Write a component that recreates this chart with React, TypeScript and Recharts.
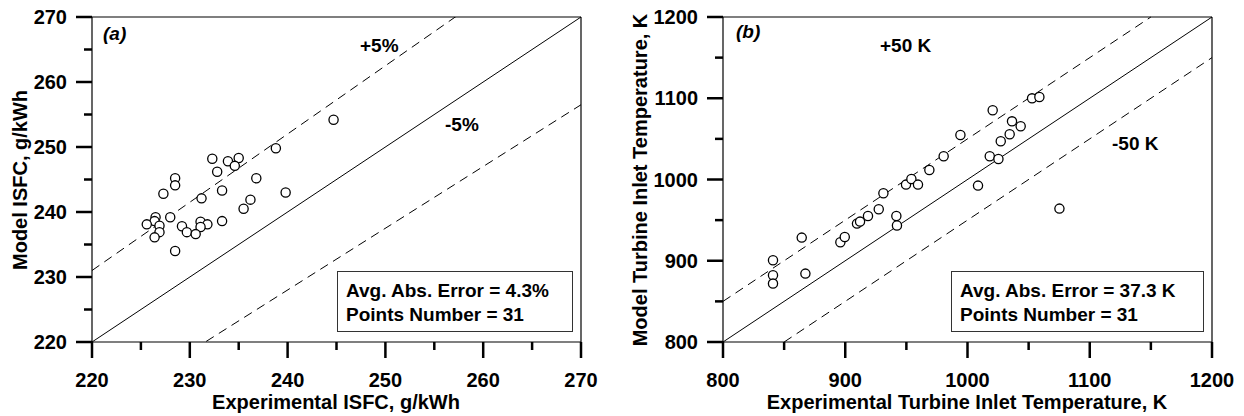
import React from 'react';
import { ReferenceLine, Scatter, ScatterChart, XAxis, YAxis } from 'recharts';

// (a) ISFC, g/kWh
const isfcExp = [
  244.7, 238.8, 232.3, 233.9, 235.0, 234.6, 232.8, 236.8, 228.5, 228.5, 227.3, 233.3, 239.8, 231.2, 236.2, 235.5,
  226.5, 228.0, 226.4, 225.6, 226.9, 229.2, 231.1, 231.8, 231.1, 233.3, 226.9, 229.7, 230.6, 226.4, 228.5,
];
const isfcModel = [
  254.2, 249.8, 248.2, 247.8, 248.3, 247.1, 246.2, 245.2, 245.2, 244.1, 242.8, 243.3, 243.0, 242.1, 241.9, 240.5,
  239.2, 239.2, 238.6, 238.1, 237.9, 237.8, 238.5, 238.1, 237.7, 238.6, 236.9, 236.9, 236.6, 236.1, 234.0,
];
const isfcTicks = [220, 225, 230, 235, 240, 245, 250, 255, 260, 265, 270];

// (b) turbine inlet temperature, K
const titExp = [
  840.9, 840.9, 840.9, 864.4, 867.4, 896.0, 899.6, 909.6, 912.1, 918.6, 927.4, 931.2, 941.8, 942.3, 949.7, 954.1,
  959.5, 968.8, 980.5, 994.2, 1020.6, 1052.8, 1058.8, 1036.4, 1043.5, 1034.5, 1027.2, 1018.2, 1025.3, 1008.6, 1075.2,
];
const titModel = [
  900.6, 882.1, 871.9, 928.5, 884.2, 922.7, 929.2, 945.7, 948.2, 955.1, 963.3, 983.0, 955.1, 943.3, 993.7, 1000.6,
  993.7, 1011.7, 1028.6, 1054.8, 1085.2, 1099.9, 1101.5, 1071.6, 1065.5, 1055.6, 1047.0, 1028.6, 1025.2, 992.5, 964.2,
];
const titTicks = [800, 850, 900, 950, 1000, 1050, 1100, 1150, 1200];

const FONT = '"Liberation Sans", Arial, sans-serif';

// major ticks are long and labelled, minor ones short and bare
function BottomTick(props: any) {
  const { x, y, payload, step } = props;
  const major = payload.value % step === 0;
  return (
    <g>
      <line x1={x} x2={x} y1={y} y2={y + (major ? 16 : 8)} stroke="#000" strokeWidth={2.5} />
      {major && (
        <text x={x} y={y + 45} textAnchor="middle" fontFamily={FONT} fontWeight={700} fontSize={20} fill="#000">
          {payload.value}
        </text>
      )}
    </g>
  );
}

function LeftTick(props: any) {
  const { x, y, payload, step } = props;
  const major = payload.value % step === 0;
  return (
    <g>
      <line x1={x} x2={x - (major ? 16 : 8)} y1={y} y2={y} stroke="#000" strokeWidth={2.5} />
      {major && (
        <text x={x - 25} y={y + 7} textAnchor="end" fontFamily={FONT} fontWeight={700} fontSize={20} fill="#000">
          {payload.value}
        </text>
      )}
    </g>
  );
}

const dot = (p: any) => <circle cx={p.cx} cy={p.cy} r={4.6} fill="#fff" stroke="#000" strokeWidth={1.3} />;

function Note({
  x,
  y,
  children,
  italic,
  center,
  size = 19,
}: {
  x: number;
  y: number;
  children: React.ReactNode;
  italic?: boolean;
  center?: boolean;
  size?: number;
}) {
  return (
    <div
      style={{
        position: 'absolute',
        left: x,
        top: y,
        transform: center ? 'translate(-50%, -50%)' : 'translateY(-50%)',
        fontFamily: FONT,
        fontWeight: 700,
        fontStyle: italic ? 'italic' : 'normal',
        fontSize: size,
        lineHeight: 1,
        whiteSpace: 'nowrap',
        color: '#000',
      }}
    >
      {children}
    </div>
  );
}

function StatBox({ left, width, lines }: { left: number; width: number; lines: string[] }) {
  return (
    <div
      style={{
        position: 'absolute',
        left,
        top: 271,
        width,
        height: 61,
        boxSizing: 'border-box',
        border: '1px solid #333',
        background: '#fff',
        padding: '7px 0 0 8px',
        fontFamily: FONT,
        fontWeight: 700,
        fontSize: 19,
        lineHeight: '24px',
        color: '#000',
      }}
    >
      {lines.map((l) => (
        <div key={l}>{l}</div>
      ))}
    </div>
  );
}

function YTitle({ x, y, text }: { x: number; y: number; text: string }) {
  return (
    <div
      style={{
        position: 'absolute',
        left: x,
        top: y,
        transform: 'translate(-50%, -50%) rotate(-90deg)',
        fontFamily: FONT,
        fontWeight: 700,
        fontSize: 20,
        lineHeight: 1,
        whiteSpace: 'nowrap',
      }}
    >
      {text}
    </div>
  );
}

export default function App() {
  const isfcData = isfcExp.map((x, i) => ({ x, y: isfcModel[i] }));
  const titData = titExp.map((x, i) => ({ x, y: titModel[i] }));

  return (
    <div style={{ position: 'absolute', left: 0, top: 0, width: 1244, height: 416, background: '#fff' }}>
      <div style={{ position: 'absolute', left: 0, top: 0 }}>
        <ScatterChart width={620} height={416} margin={{ top: 17, right: 39, bottom: 0, left: 0 }}>
          <XAxis
            type="number"
            dataKey="x"
            domain={[220, 270]}
            ticks={isfcTicks}
            interval={0}
            height={74}
            tickSize={0}
            tickMargin={0}
            tickLine={false}
            axisLine={{ stroke: '#000', strokeWidth: 1.2 }}
            tick={<BottomTick step={10} />}
            allowDataOverflow
          />
          <YAxis
            type="number"
            dataKey="y"
            domain={[220, 270]}
            ticks={isfcTicks}
            interval={0}
            width={92}
            tickSize={0}
            tickMargin={0}
            tickLine={false}
            axisLine={{ stroke: '#000', strokeWidth: 1.2 }}
            tick={<LeftTick step={10} />}
            allowDataOverflow
          />
          <ReferenceLine y={270} stroke="#000" strokeWidth={1.2} />
          <ReferenceLine x={270} stroke="#000" strokeWidth={1.2} />
          <ReferenceLine segment={[{ x: 220, y: 220 }, { x: 270, y: 270 }]} stroke="#000" />
          <ReferenceLine
            segment={[{ x: 220, y: 231 }, { x: 270, y: 283.5 }]}
            stroke="#000"
            strokeDasharray="9 6"
            ifOverflow="hidden"
          />
          <ReferenceLine
            segment={[{ x: 220, y: 209 }, { x: 270, y: 256.5 }]}
            stroke="#000"
            strokeDasharray="9 6"
            ifOverflow="hidden"
          />
          <Scatter data={isfcData} shape={dot} isAnimationActive={false} />
        </ScatterChart>
      </div>

      <div style={{ position: 'absolute', left: 620, top: 0 }}>
        <ScatterChart width={624} height={416} margin={{ top: 17, right: 32, bottom: 0, left: 0 }}>
          <XAxis
            type="number"
            dataKey="x"
            domain={[800, 1200]}
            ticks={titTicks}
            interval={0}
            height={74}
            tickSize={0}
            tickMargin={0}
            tickLine={false}
            axisLine={{ stroke: '#000', strokeWidth: 1.2 }}
            tick={<BottomTick step={100} />}
            allowDataOverflow
          />
          <YAxis
            type="number"
            dataKey="y"
            domain={[800, 1200]}
            ticks={titTicks}
            interval={0}
            width={103}
            tickSize={0}
            tickMargin={0}
            tickLine={false}
            axisLine={{ stroke: '#000', strokeWidth: 1.2 }}
            tick={<LeftTick step={100} />}
            allowDataOverflow
          />
          <ReferenceLine y={1200} stroke="#000" strokeWidth={1.2} />
          <ReferenceLine x={1200} stroke="#000" strokeWidth={1.2} />
          <ReferenceLine segment={[{ x: 800, y: 800 }, { x: 1200, y: 1200 }]} stroke="#000" />
          <ReferenceLine segment={[{ x: 800, y: 850 }, { x: 1150, y: 1200 }]} stroke="#000" strokeDasharray="9 6" />
          <ReferenceLine segment={[{ x: 850, y: 800 }, { x: 1200, y: 1150 }]} stroke="#000" strokeDasharray="9 6" />
          <Scatter data={titData} shape={dot} isAnimationActive={false} />
        </ScatterChart>
      </div>

      <Note x={103} y={33} italic>(a)</Note>
      <Note x={360} y={45}>+5%</Note>
      <Note x={445} y={124}>-5%</Note>
      <StatBox left={337} width={236} lines={['Avg. Abs. Error = 4.3%', 'Points Number = 31']} />
      <Note x={336} y={402} center size={20}>Experimental ISFC, g/kWh</Note>
      <YTitle x={20} y={180} text="Model ISFC, g/kWh" />

      <Note x={736} y={31} italic>(b)</Note>
      <Note x={880} y={45}>+50 K</Note>
      <Note x={1112} y={143}>-50 K</Note>
      <StatBox left={951} width={253} lines={['Avg. Abs. Error = 37.3 K', 'Points Number = 31']} />
      <Note x={967} y={402} center size={20}>Experimental Turbine Inlet Temperature, K</Note>
      <YTitle x={640} y={180} text="Model Turbine Inlet Temperature, K" />
    </div>
  );
}
